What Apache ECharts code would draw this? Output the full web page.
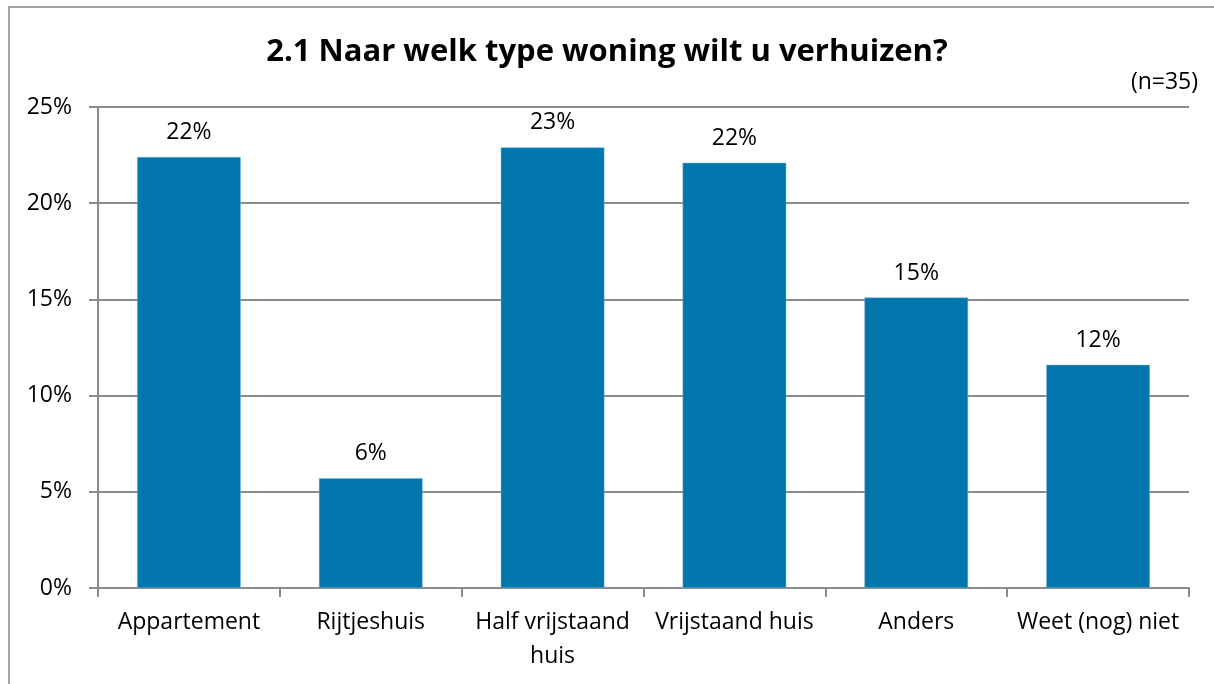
<!DOCTYPE html>
<html>
<head>
<meta charset="utf-8">
<script src="https://cdn.jsdelivr.net/npm/echarts@6/dist/echarts.min.js"></script>
<style>
  html, body { margin: 0; padding: 0; background: #fff; }
  #chart { width: 1214px; height: 684px; }
</style>
</head>
<body>
<div id="chart"></div>
<script>
var categories = ['Appartement', 'Rijtjeshuis', 'Half vrijstaand\nhuis', 'Vrijstaand huis', 'Anders', 'Weet (nog) niet'];
var values = [22.4, 5.7, 22.9, 22.1, 15.1, 11.6];
var valueLabels = ['22%', '6%', '23%', '22%', '15%', '12%'];

var chart = echarts.init(document.getElementById('chart'));
var font = '"Open Sans", "Noto Sans", sans-serif';

var option = {
    animation: false,
    backgroundColor: '#fff',
    graphic: [
        {
            type: 'rect',
            shape: { x: 9, y: 7, width: 1220, height: 700 },
            style: { fill: 'none', stroke: '#878787', lineWidth: 1.5 }
        }
    ],
    title: [
        {
            text: '2.1 Naar welk type woning wilt u verhuizen?',
            left: 'center',
            top: 32,
            textStyle: { fontFamily: font, fontSize: 31, fontWeight: 'bold', color: '#000' }
        },
        {
            text: '(n=35)',
            right: 11,
            top: 66,
            textStyle: { fontFamily: font, fontSize: 23, fontWeight: 'normal', color: '#000' }
        }
    ],
    grid: { left: 98, right: 25, top: 107, bottom: 96 },
    xAxis: {
        type: 'category',
        data: categories,
        axisLine: { lineStyle: { color: '#8c8c8c', width: 2 } },
        axisTick: { show: true, length: 9, lineStyle: { color: '#8c8c8c', width: 2 } },
        axisLabel: {
            fontFamily: font, fontSize: 23, color: '#000', margin: 17, lineHeight: 34,
            interval: 0
        }
    },
    yAxis: {
        type: 'value',
        min: 0,
        max: 25,
        interval: 5,
        axisLine: { show: true, lineStyle: { color: '#8c8c8c', width: 2 } },
        axisTick: { show: true, length: 9, lineStyle: { color: '#8c8c8c', width: 2 } },
        splitLine: { lineStyle: { color: '#8c8c8c', width: 2 } },
        axisLabel: {
            fontFamily: font, fontSize: 23, color: '#000', margin: 26,
            formatter: '{value}%'
        }
    },
    series: [
        {
            type: 'bar',
            data: values,
            barCategoryGap: '43%',
            itemStyle: { color: '#0076ad', borderColor: '#7fb6d3', borderWidth: 0.5 },
            label: {
                show: true,
                position: 'top',
                distance: 13,
                fontFamily: font,
                fontSize: 23,
                color: '#000',
                formatter: function (p) { return valueLabels[p.dataIndex]; }
            }
        }
    ]
};
chart.setOption(option);
</script>
</body>
</html>
